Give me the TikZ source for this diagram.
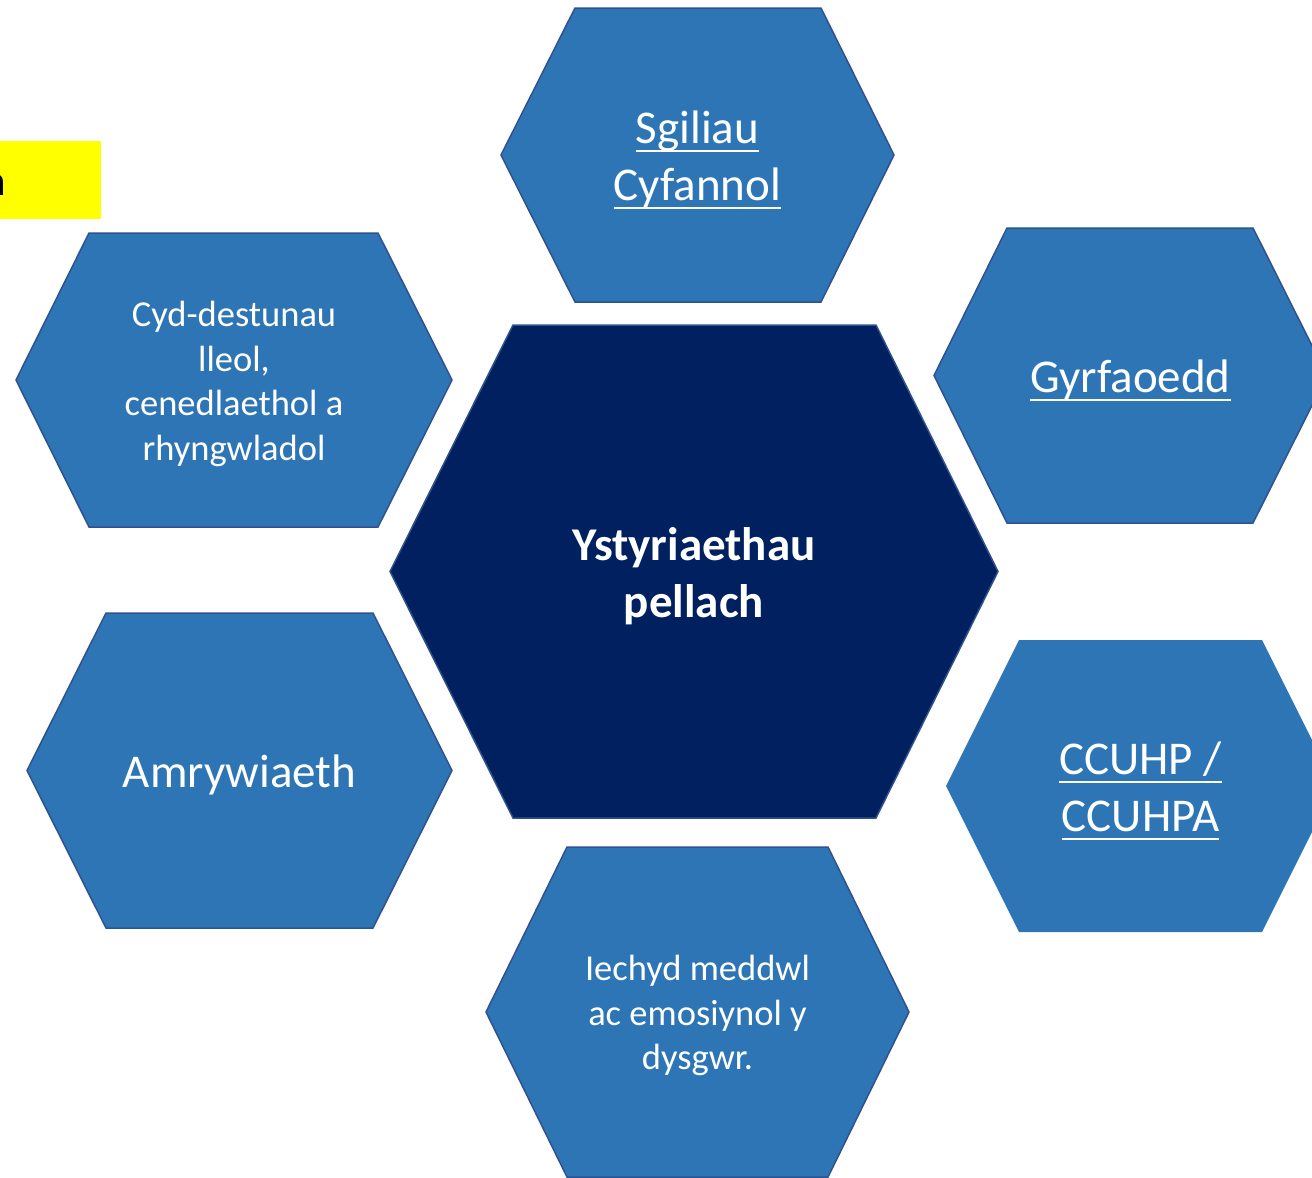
\documentclass[tikz,border=0pt]{standalone}
\usepackage{fontspec}
\setmainfont{Carlito}
\definecolor{hexfill}{HTML}{2E75B6}
\definecolor{hexline}{HTML}{2F528F}
\definecolor{corefill}{HTML}{002060}
\definecolor{hilite}{HTML}{FFFF00}
\newcommand{\myul}[1]{\leavevmode\setbox0\hbox{#1}\rlap{\rule[-8.5pt]{\wd0}{2pt}}\box0}
\begin{document}
\begin{tikzpicture}[x=1pt,y=-1pt,
  hexa/.style={fill=hexfill,draw=hexline,line width=1.5pt,line join=miter},
  hexnb/.style={fill=hexfill},
  corehex/.style={fill=corefill,draw=hexline,line width=1.5pt,line join=miter},
  bigtxt/.style={font=\fontsize{47}{57}\selectfont,text=white,align=center,inner sep=0pt},
  smalltxt/.style={font=\fontsize{36.5}{44.5}\selectfont,text=white,align=center,inner sep=0pt}]
\useasboundingbox (0,0) rectangle (1312,1178);
% yellow highlight box
\fill[hilite] (-5,141) rectangle (101,219);
\node[anchor=base east,inner sep=0pt,font=\fontsize{43}{50}\selectfont] (hl) at (6,195) {n};
% hexagons
\draw[hexa] (501,155) -- (575,8) -- (821,8) -- (894,155) -- (821,302) -- (575,302) -- cycle;
\draw[corehex] (390,571.5) -- (513,325) -- (876,325) -- (998,571.5) -- (876,818) -- (513,818) -- cycle;
\draw[hexa] (934,375.5) -- (1007,228) -- (1253,228) -- (1327,375.5) -- (1253,523) -- (1007,523) -- cycle;
\fill[hexnb] (946,786) -- (1019,640) -- (1262,640) -- (1335,786) -- (1262,932) -- (1019,932) -- cycle;
\draw[hexa] (16,380) -- (89,233) -- (378,233) -- (452,380) -- (378,527) -- (89,527) -- cycle;
\draw[hexa] (27,770.5) -- (106,613) -- (373,613) -- (452,770.5) -- (373,928) -- (106,928) -- cycle;
\draw[hexa] (486,1012) -- (567,847) -- (828,847) -- (909,1012) -- (828,1177) -- (567,1177) -- cycle;
% texts
\node[bigtxt] (sg) at (697.5,160) {\myul{Sgiliau}\\\myul{Cyfannol}};
\node[bigtxt,font=\fontsize{47}{57}\selectfont\bfseries] (core) at (694,576) {Ystyriaethau\\pellach};
\node[bigtxt] (gy) at (1130.5,380) {\myul{Gyrfaoedd}};
\node[bigtxt] (cc) at (1140.5,791) {\myul{CCUHP /}\\\myul{CCUHPA}};
\node[smalltxt] (cy) at (234,384) {Cyd-destunau\\lleol,\\cenedlaethol a\\rhyngwladol};
\node[bigtxt] (am) at (239.5,775) {Amrywiaeth};
\node[smalltxt] (ie) at (697.5,1015.5) {Iechyd meddwl\\ac emosiynol y\\dysgwr.};
\end{tikzpicture}
\end{document}
